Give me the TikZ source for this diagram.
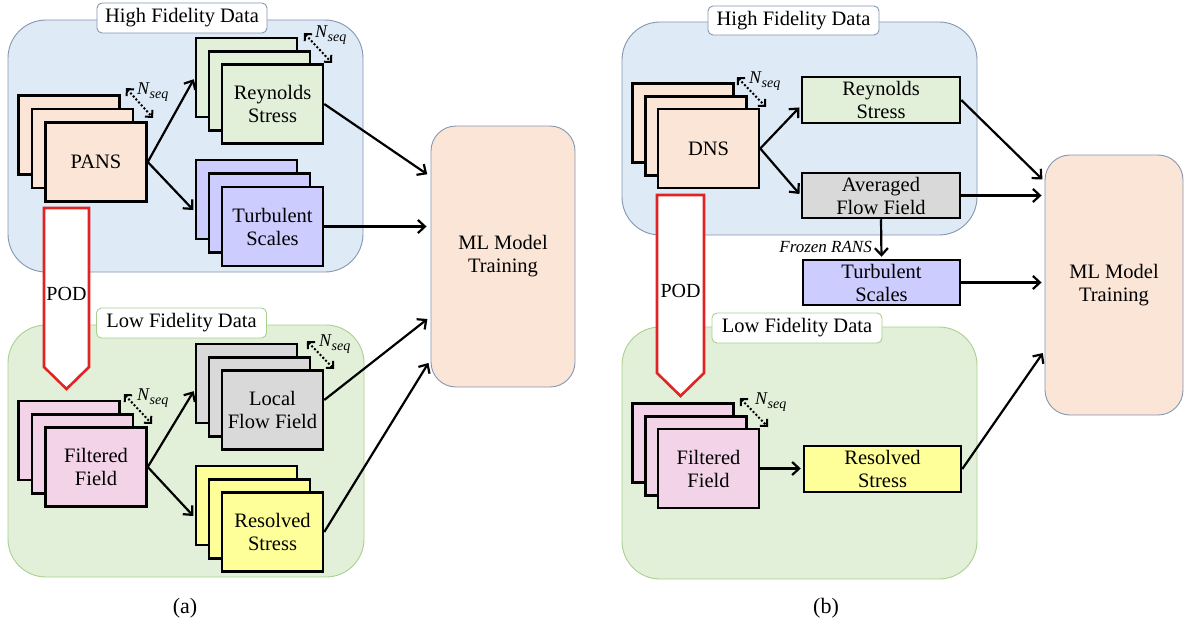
\documentclass[tikz,border=0pt]{standalone}
\usepackage{fontspec}
\setmainfont{Liberation Serif}
\usetikzlibrary{arrows.meta,calc}

\definecolor{hiFill}{HTML}{DEEBF7}
\definecolor{hiLine}{HTML}{8497B0}
\definecolor{loFill}{HTML}{E2F0D9}
\definecolor{loLine}{HTML}{A9D18E}
\definecolor{peach}{HTML}{FBE5D6}
\definecolor{mint}{HTML}{E2F0D9}
\definecolor{lilac}{HTML}{CCCCFF}
\definecolor{greyc}{HTML}{D9D9D9}
\definecolor{lemon}{HTML}{FFFF99}
\definecolor{rose}{HTML}{F2D3E8}
\definecolor{podRed}{HTML}{E02424}

% sequence-length symbol with a large subscript
\newcommand{\nseqlabel}{{\itshape\fontsize{18}{18}\selectfont N}\kern0.5pt\raisebox{-4pt}{\itshape\fontsize{14}{14}\selectfont seq}}

\begin{document}
\begin{tikzpicture}[x=1pt,y=-1pt,
  region/.style={line width=0.9pt, rounded corners=38pt, inner sep=0pt},
  tag/.style={draw, fill=white, line width=0.9pt, rounded corners=5pt,
    minimum width=170pt, minimum height=30pt, inner sep=0pt,
    font=\fontsize{20.5}{23}\selectfont},
  card/.style={draw=black, line width=2.5pt, inner sep=0pt,
    minimum width=101pt, minimum height=79pt, align=center,
    font=\fontsize{20.5}{23}\selectfont},
  flat/.style={card, minimum width=158pt, minimum height=46pt},
  mlbox/.style={draw=hiLine, fill=peach, line width=0.9pt, rounded corners=25pt,
    inner sep=0pt, align=center, font=\fontsize{20.5}{23}\selectfont},
  conn/.style={draw, line width=2.2pt, shorten >=2pt,
    -{Straight Barb[length=7pt,width=13pt]}},
  seqarrow/.style={draw, line width=2pt, dash pattern=on 2pt off 2pt,
    {Straight Barb[length=5pt,width=10pt]}-{Straight Barb[length=5pt,width=10pt]}},
  seqlabel/.style={anchor=west, inner sep=0pt},
  podarrow/.style={draw=podRed, fill=white, line width=2.6pt, line join=miter},
  podtext/.style={inner sep=0pt, font=\fontsize{20}{22}\selectfont},
  caption/.style={inner sep=0pt, font=\fontsize{22}{24}\selectfont}
]
\useasboundingbox (0,0) rectangle (1185,634);

% ---------------- panel (a) ----------------
\node[region, draw=hiLine, fill=hiFill, minimum width=355pt, minimum height=252pt] (hiA) at (185.5,146) {};
\node[region, draw=loLine, fill=loFill, minimum width=356pt, minimum height=252pt] (loA) at (186,451) {};
\node[tag, draw=hiLine] (hiTagA) at (182,18) {High Fidelity Data};
\node[tag, draw=loLine] (loTagA) at (181.5,323) {Low Fidelity Data};
\node[mlbox, minimum width=144pt, minimum height=261pt] (mlA) at (503,256.5) {ML Model\\Training};

% stacks of snapshots
\node[card, fill=peach] (pansC) at (69,135) {};
\node[card, fill=peach] (pansB) at (82.5,148.5) {};
\node[card, fill=peach] (pansA) at (96,162) {PANS};

\node[card, fill=mint] (reyC) at (246.5,77.5) {};
\node[card, fill=mint] (reyB) at (259.5,91) {};
\node[card, fill=mint] (reyA) at (272.5,104) {Reynolds\\Stress};

\node[card, fill=lilac] (turC) at (246.5,199.5) {};
\node[card, fill=lilac] (turB) at (259.5,213) {};
\node[card, fill=lilac] (turA) at (272.5,226.5) {Turbulent\\Scales};

\node[card, fill=rose] (filC) at (69,440.5) {};
\node[card, fill=rose] (filB) at (82.5,454) {};
\node[card, fill=rose] (filA) at (96,467) {Filtered\\Field};

\node[card, fill=greyc] (locC) at (246.5,383.5) {};
\node[card, fill=greyc] (locB) at (259.5,397) {};
\node[card, fill=greyc] (locA) at (272.5,410) {Local\\Flow Field};

\node[card, fill=lemon] (resC) at (246.5,505.5) {};
\node[card, fill=lemon] (resB) at (259.5,519) {};
\node[card, fill=lemon] (resA) at (272.5,532) {Resolved\\Stress};

% sequence-length markers
\coordinate (sqA1s) at (126,88);  \coordinate (sqA1e) at (153,118);
\coordinate (sqA2s) at (304,33);  \coordinate (sqA2e) at (332,63);
\coordinate (sqA3s) at (124,394); \coordinate (sqA3e) at (152,424);
\coordinate (sqA4s) at (307,341); \coordinate (sqA4e) at (334,369);
\draw[seqarrow] (sqA1s) -- (sqA1e);
\draw[seqarrow] (sqA2s) -- (sqA2e);
\draw[seqarrow] (sqA3s) -- (sqA3e);
\draw[seqarrow] (sqA4s) -- (sqA4e);
\node[seqlabel] (nA1) at (137,92) {\nseqlabel};
\node[seqlabel] (nA2) at (315,35) {\nseqlabel};
\node[seqlabel] (nA3) at (137,398) {\nseqlabel};
\node[seqlabel] (nA4) at (319,344) {\nseqlabel};

% connectors
\draw[conn] (pansA.east) -- (reyC.west);
\draw[conn] (pansA.east) -- ([yshift=-12pt]turC.west);
\draw[conn] (filA.east) -- ([yshift=-6pt]locC.west);
\draw[conn] (filA.east) -- ([yshift=-12pt]resC.west);
\draw[conn, shorten >=4pt] (reyA.east) -- ([yshift=-51pt]mlA.north west);
\draw[conn, shorten >=4pt] (turA.east) -- (turA.east -| mlA.west);
\draw[conn, shorten >=4pt] ([yshift=10pt]locA.east) -- ([yshift=-191pt]mlA.north west);
\draw[conn, shorten >=4pt] (resA.east) -- ([yshift=-234pt]mlA.north west);

% projection arrow
\draw[podarrow] (44,208) -- (89,208) -- (89,367) -- (66.5,389) -- (44,367) -- cycle;
\node[podtext] (podA) at (66.5,294) {POD};

\node[caption] (capA) at (185,608) {(a)};

% ---------------- panel (b) ----------------
\node[region, draw=hiLine, fill=hiFill, minimum width=355pt, minimum height=213pt] (hiB) at (799.5,128.5) {};
\node[region, draw=loLine, fill=loFill, minimum width=355pt, minimum height=252pt] (loB) at (799.5,453) {};
\node[tag, draw=hiLine, minimum width=171pt, minimum height=29pt] (hiTagB) at (793.5,20.5) {High Fidelity Data};
\node[tag, draw=loLine] (loTagB) at (797,328) {Low Fidelity Data};
\node[mlbox, minimum width=138pt, minimum height=260pt] (mlB) at (1114,285) {ML Model\\Training};

\node[card, fill=peach] (dnsC) at (683,123) {};
\node[card, fill=peach] (dnsB) at (696,136) {};
\node[card, fill=peach] (dnsA) at (708.5,148.5) {DNS};

\node[card, fill=rose] (filFC) at (683,443) {};
\node[card, fill=rose] (filFB) at (696,456) {};
\node[card, fill=rose] (filFA) at (708.5,468.5) {Filtered\\Field};

\node[flat, fill=mint] (reyS) at (881,100) {Reynolds\\Stress};
\node[flat, fill=greyc, minimum height=45pt] (avgS) at (881,195.5) {Averaged\\Flow Field};
\node[flat, fill=lilac, minimum width=157pt, minimum height=45pt] (turS) at (881.5,282.5) {Turbulent\\Scales};
\node[flat, fill=lemon, minimum width=157pt] (resS) at (882.5,469) {Resolved\\Stress};

\coordinate (sqB1s) at (737,77);  \coordinate (sqB1e) at (766,107);
\coordinate (sqB2s) at (740,398); \coordinate (sqB2e) at (768,427);
\draw[seqarrow] (sqB1s) -- (sqB1e);
\draw[seqarrow] (sqB2s) -- (sqB2e);
\node[seqlabel] (nB1) at (749,81) {\nseqlabel};
\node[seqlabel] (nB2) at (755,402) {\nseqlabel};

\draw[conn] (dnsA.east) -- ([yshift=-6pt]reyS.west);
\draw[conn] (dnsA.east) -- (avgS.west);
\draw[conn] (avgS.south) -- (turS.north);
\draw[conn] (filFA.east) -- (filFA.east -| resS.west);
\draw[conn, shorten >=3pt] (reyS.east) -- ([yshift=-27pt]mlB.north west);
\draw[conn, shorten >=3pt] (avgS.east) -- (avgS.east -| mlB.west);
\draw[conn, shorten >=3pt] (turS.east) -- (turS.east -| mlB.west);
\draw[conn, shorten >=3pt] (resS.east) -- ([yshift=-196pt]mlB.north west);
\node[anchor=east, inner sep=0pt, font=\itshape\fontsize{17}{18}\selectfont] (frz) at (872,247) {Frozen RANS};

\draw[podarrow] (657,195) -- (704,195) -- (704,373) -- (680.5,396) -- (657,373) -- cycle;
\node[podtext] (podB) at (680.5,291) {POD};

\node[caption] (capB) at (826,608) {(b)};
\end{tikzpicture}
\end{document}
